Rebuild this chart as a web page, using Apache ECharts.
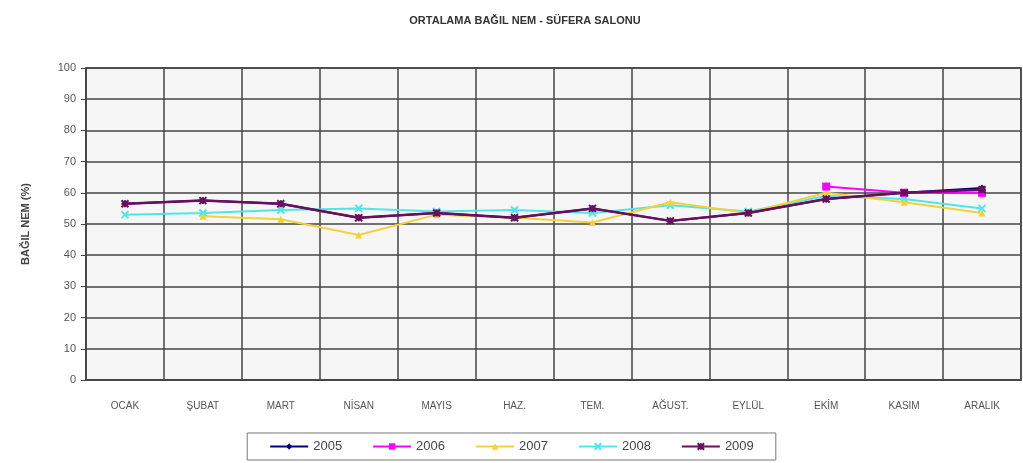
<!DOCTYPE html>
<html>
<head>
<meta charset="utf-8">
<script src="https://cdn.jsdelivr.net/npm/echarts@6/dist/echarts.min.js"></script>
<style>
  html, body { margin: 0; padding: 0; background: #fff; }
  #chart { width: 1023px; height: 463px; }
</style>
</head>
<body>
<div id="chart"></div>
<script>
const months = ['OCAK', 'ŞUBAT', 'MART', 'NİSAN', 'MAYIS', 'HAZ.', 'TEM.', 'AĞUST.', 'EYLÜL', 'EKİM', 'KASIM', 'ARALIK']
const years = ['2005', '2006', '2007', '2008', '2009']

const y2005 = [56.5, 57.5, 56.5, 52, 53.5, 52, 55, 51, 53.5, 58, 60, 61.5]
const y2006 = [null, null, null, null, null, null, null, null, null, 62, 60, 60]
const y2007 = [null, 52.5, 51.5, 46.5, 53, 52, 50.5, 57, 53.5, 60, 57, 53.5]
const y2008 = [53, 53.5, 54.5, 55, 54, 54.5, 53.5, 56, 54, 59, 58, 55]
const y2009 = [56.5, 57.5, 56.5, 52, 53.5, 52, 55, 51, 53.5, 58, 60, 61]

const colors = ['#000080', '#ff00ff', '#f2d23a', '#4fe6ea', '#6a0f5e']
const crossPath = 'path://M0,0L10,10M10,0L0,10'
const starPath = 'path://M5,0L5,10M0,0L10,10M10,0L0,10M0,5L10,5'
const symbols = ['diamond', 'rect', 'triangle', crossPath, starPath]
const allData = [y2005, y2006, y2007, y2008, y2009]

const chart = echarts.init(document.getElementById('chart'))

const series = years.map((name, i) => ({
  name: name,
  type: 'line',
  data: allData[i],
  symbol: symbols[i],
  symbolSize: i === 1 ? 8 : 7,
  connectNulls: false,
  lineStyle: { color: colors[i], width: i === 4 ? 2.5 : 2 },
  itemStyle: { color: colors[i], borderColor: colors[i], borderWidth: i >= 3 ? 2 : 0 },
  z: i === 4 ? 5 : 3 + (4 - i) * 0.1
}))

chart.setOption({
  backgroundColor: '#fff',
  animation: false,
  title: {
    text: 'ORTALAMA BAĞIL NEM - SÜFERA SALONU',
    left: 520,
    textAlign: 'center',
    top: 10,
    textStyle: { fontSize: 11, fontWeight: 'bold', color: '#333', fontFamily: 'Liberation Sans' }
  },
  legend: {
    data: years,
    bottom: 3,
    left: 'center',
    width: 520,
    itemWidth: 38,
    itemHeight: 8,
    itemGap: 30,
    padding: [7, 22, 7, 22],
    borderColor: '#777',
    borderWidth: 1,
    textStyle: { fontSize: 13, color: '#444', fontFamily: 'Liberation Sans' }
  },
  grid: { left: 86, right: 2, top: 68, bottom: 83, backgroundColor: '#f6f6f6', show: true, borderColor: '#444', borderWidth: 1.5 },
  xAxis: {
    type: 'category',
    data: months,
    boundaryGap: true,
    axisLine: { lineStyle: { color: '#444', width: 1.5 } },
    axisTick: { show: false },
    axisLabel: { fontSize: 10, color: '#555', margin: 21, interval: 0, fontFamily: 'Liberation Sans' },
    splitLine: { show: true, interval: 0, lineStyle: { color: '#444', width: 1.5 } }
  },
  yAxis: {
    type: 'value',
    min: 0,
    max: 100,
    interval: 10,
    name: 'BAĞIL NEM (%)',
    nameLocation: 'middle',
    nameGap: 55,
    nameTextStyle: { fontSize: 11, fontWeight: 'bold', color: '#444', fontFamily: 'Liberation Sans' },
    axisLine: { show: true, lineStyle: { color: '#444', width: 1.5 } },
    axisTick: { show: true, length: 5, lineStyle: { color: '#444' } },
    axisLabel: { fontSize: 11, color: '#555', margin: 10, fontFamily: 'Liberation Sans' },
    splitLine: { lineStyle: { color: '#444', width: 1.5 } }
  },
  series: series
})
</script>
</body>
</html>
